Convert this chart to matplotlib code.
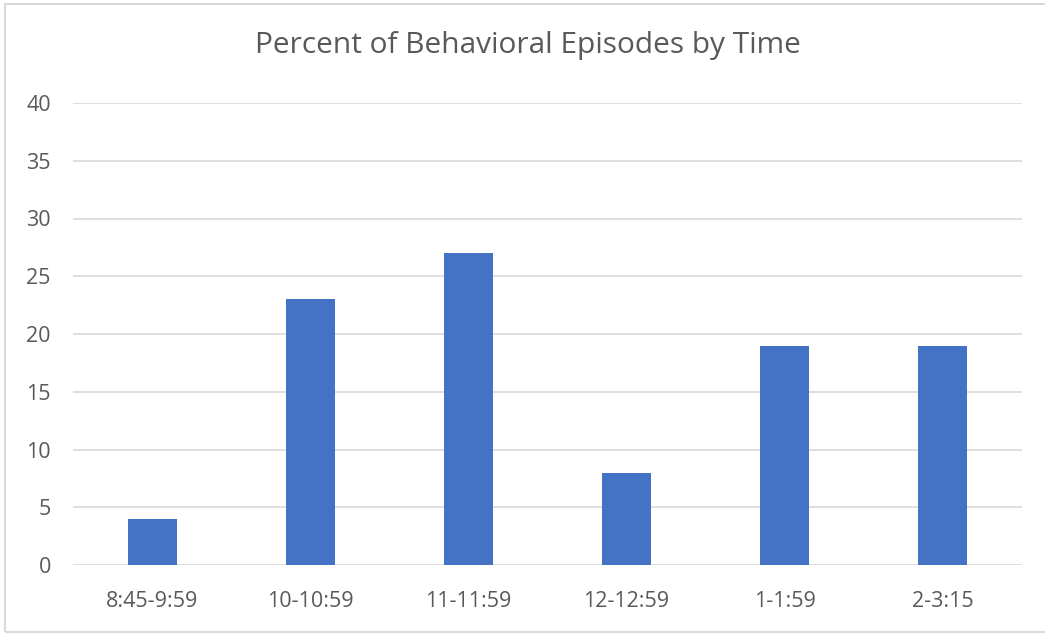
import matplotlib.pyplot as plt
from matplotlib.patches import Rectangle
import numpy as np

plt.rcParams['font.family'] = ['Open Sans', 'DejaVu Sans']

# time slots and percent of episodes in each
time_slots = ['8:45-9:59', '10-10:59', '11-11:59', '12-12:59', '1-1:59', '2-3:15']
percents = [4, 23, 27, 8, 19, 19]
y_ticks = [0, 5, 10, 15, 20, 25, 30, 35, 40]

text_col = '#595959'
grid_col = '#d9d9d9'

fig = plt.figure(figsize=(10.45, 6.34), dpi=100)
ax = fig.add_axes([73/1045, 69/634, 949/1045, 462/634])

x = np.arange(len(time_slots))
ax.bar(x, percents, width=0.31, color='#4472C4', zorder=3)

ax.set_xlim(-0.5, len(time_slots) - 0.5)
ax.set_ylim(0, 40)
ax.set_yticks(y_ticks)
ax.set_xticks(x)
ax.set_xticklabels(time_slots)
ax.tick_params(axis='both', length=0, labelsize=15.5, colors=text_col)
ax.tick_params(axis='y', pad=16)
ax.tick_params(axis='x', pad=19)
ax.grid(axis='y', color=grid_col, linewidth=1.2, zorder=0)
for s in ax.spines.values():
    s.set_visible(False)

fig.text(528/1045, 1 - 45/634, 'Percent of Behavioral Episodes by Time',
         ha='center', va='center', fontsize=21.5, color=text_col)

# light frame round the chart
fig.patches.append(Rectangle((5/1045, 2/634), 1.0, 1 - 6/634, transform=fig.transFigure,
                             fill=False, edgecolor='#d9d9d9', linewidth=1.5))

fig.savefig('out.png', dpi=100, facecolor='white')
